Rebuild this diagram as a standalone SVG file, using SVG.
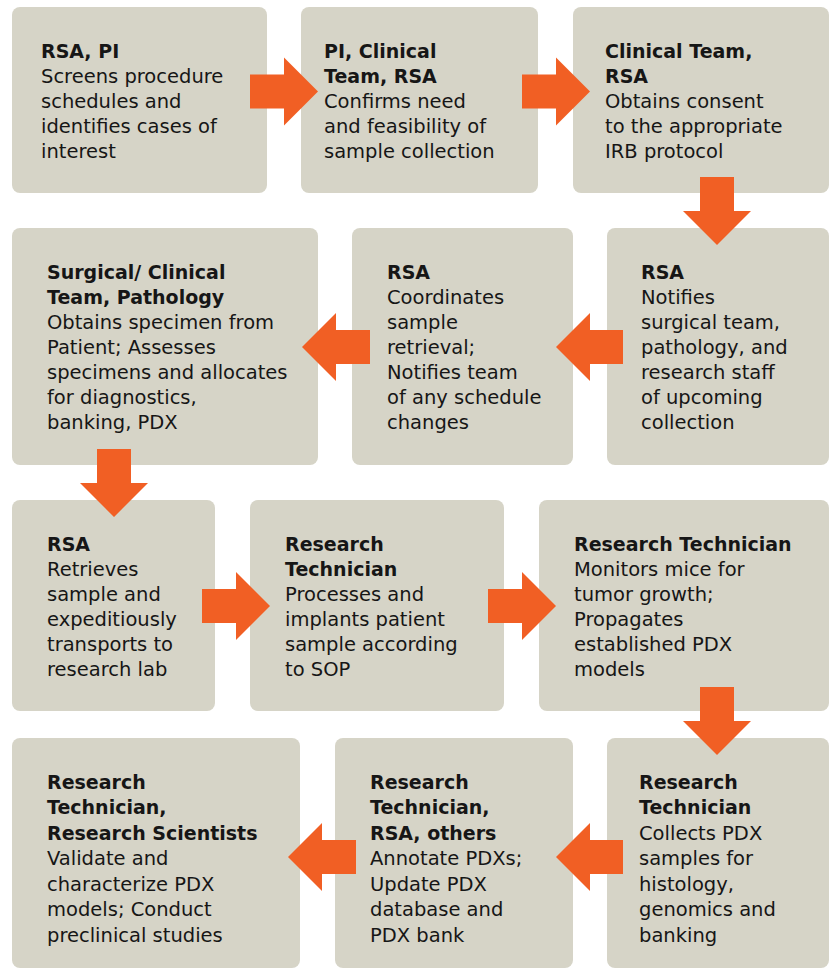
<svg xmlns="http://www.w3.org/2000/svg" width="829" height="973" viewBox="0 0 829 973">
<style>
.box{fill:#d6d4c7}
.arr{fill:#f15f24}
text{font-family:"DejaVu Sans","Liberation Sans",sans-serif;fill:#161616;font-size:19.5px}
.h{font-weight:bold;font-size:19px}
</style>
<rect width="829" height="973" fill="#ffffff"/>
<g id="n1"><rect class="box" x="12" y="7" width="255" height="186" rx="8"/>
<text x="41" y="57.5"><tspan class="h">RSA, PI</tspan><tspan x="41" dy="25">Screens procedure</tspan><tspan x="41" dy="25">schedules and</tspan><tspan x="41" dy="25">identifies cases of</tspan><tspan x="41" dy="25">interest</tspan></text></g>
<g id="n2"><rect class="box" x="301" y="7" width="237" height="186" rx="8"/>
<text x="324" y="57.5"><tspan class="h">PI, Clinical</tspan><tspan class="h" x="324" dy="25">Team, RSA</tspan><tspan x="324" dy="25">Confirms need</tspan><tspan x="324" dy="25">and feasibility of</tspan><tspan x="324" dy="25">sample collection</tspan></text></g>
<g id="n3"><rect class="box" x="573" y="7" width="256" height="186" rx="8"/>
<text x="605" y="57.5"><tspan class="h">Clinical Team,</tspan><tspan class="h" x="605" dy="25">RSA</tspan><tspan x="605" dy="25">Obtains consent</tspan><tspan x="605" dy="25">to the appropriate</tspan><tspan x="605" dy="25">IRB protocol</tspan></text></g>
<g id="n4"><rect class="box" x="12" y="228" width="306" height="237" rx="8"/>
<text x="47" y="278.5"><tspan class="h">Surgical/ Clinical</tspan><tspan class="h" x="47" dy="25">Team, Pathology</tspan><tspan x="47" dy="25">Obtains specimen from</tspan><tspan x="47" dy="25">Patient; Assesses</tspan><tspan x="47" dy="25">specimens and allocates</tspan><tspan x="47" dy="25">for diagnostics,</tspan><tspan x="47" dy="25">banking, PDX</tspan></text></g>
<g id="n5"><rect class="box" x="352" y="228" width="221" height="237" rx="8"/>
<text x="387" y="278.5"><tspan class="h">RSA</tspan><tspan x="387" dy="25">Coordinates</tspan><tspan x="387" dy="25">sample</tspan><tspan x="387" dy="25">retrieval;</tspan><tspan x="387" dy="25">Notifies team</tspan><tspan x="387" dy="25">of any schedule</tspan><tspan x="387" dy="25">changes</tspan></text></g>
<g id="n6"><rect class="box" x="607" y="228" width="222" height="237" rx="8"/>
<text x="641" y="278.5"><tspan class="h">RSA</tspan><tspan x="641" dy="25">Notifies</tspan><tspan x="641" dy="25">surgical team,</tspan><tspan x="641" dy="25">pathology, and</tspan><tspan x="641" dy="25">research staff</tspan><tspan x="641" dy="25">of upcoming</tspan><tspan x="641" dy="25">collection</tspan></text></g>
<g id="n7"><rect class="box" x="12" y="500" width="203" height="211" rx="8"/>
<text x="47" y="550.5"><tspan class="h">RSA</tspan><tspan x="47" dy="25">Retrieves</tspan><tspan x="47" dy="25">sample and</tspan><tspan x="47" dy="25">expeditiously</tspan><tspan x="47" dy="25">transports to</tspan><tspan x="47" dy="25">research lab</tspan></text></g>
<g id="n8"><rect class="box" x="250" y="500" width="254" height="211" rx="8"/>
<text x="285" y="550.5"><tspan class="h">Research</tspan><tspan class="h" x="285" dy="25">Technician</tspan><tspan x="285" dy="25">Processes and</tspan><tspan x="285" dy="25">implants patient</tspan><tspan x="285" dy="25">sample according</tspan><tspan x="285" dy="25">to SOP</tspan></text></g>
<g id="n9"><rect class="box" x="539" y="500" width="290" height="211" rx="8"/>
<text x="574" y="550.5"><tspan class="h">Research Technician</tspan><tspan x="574" dy="25">Monitors mice for</tspan><tspan x="574" dy="25">tumor growth;</tspan><tspan x="574" dy="25">Propagates</tspan><tspan x="574" dy="25">established PDX</tspan><tspan x="574" dy="25">models</tspan></text></g>
<g id="n10"><rect class="box" x="12" y="738" width="288" height="230" rx="8"/>
<text x="47" y="788.5"><tspan class="h">Research</tspan><tspan class="h" x="47" dy="25.5">Technician,</tspan><tspan class="h" x="47" dy="25.5">Research Scientists</tspan><tspan x="47" dy="25.5">Validate and</tspan><tspan x="47" dy="25.5">characterize PDX</tspan><tspan x="47" dy="25.5">models; Conduct</tspan><tspan x="47" dy="25.5">preclinical studies</tspan></text></g>
<g id="n11"><rect class="box" x="335" y="738" width="238" height="230" rx="8"/>
<text x="370" y="788.5"><tspan class="h">Research</tspan><tspan class="h" x="370" dy="25.5">Technician,</tspan><tspan class="h" x="370" dy="25.5">RSA, others</tspan><tspan x="370" dy="25.5">Annotate PDXs;</tspan><tspan x="370" dy="25.5">Update PDX</tspan><tspan x="370" dy="25.5">database and</tspan><tspan x="370" dy="25.5">PDX bank</tspan></text></g>
<g id="n12"><rect class="box" x="607" y="738" width="222" height="230" rx="8"/>
<text x="639" y="788.5"><tspan class="h">Research</tspan><tspan class="h" x="639" dy="25.5">Technician</tspan><tspan x="639" dy="25.5">Collects PDX</tspan><tspan x="639" dy="25.5">samples for</tspan><tspan x="639" dy="25.5">histology,</tspan><tspan x="639" dy="25.5">genomics and</tspan><tspan x="639" dy="25.5">banking</tspan></text></g>
<g id="connectors">
<path class="arr" d="M250,74.5H284V57.5L318,91.5L284,125.5V108.5H250Z"/>
<path class="arr" d="M522,74.5H556V57.5L590,91.5L556,125.5V108.5H522Z"/>
<path class="arr" d="M700,177V211H683L717,245L751,211H734V177Z"/>
<path class="arr" d="M623,330H590V313L556,347L590,381V364H623Z"/>
<path class="arr" d="M370,330H336V313L302,347L336,381V364H370Z"/>
<path class="arr" d="M97,449V483H80L114,517L148,483H131V449Z"/>
<path class="arr" d="M202,589H236V572L270,606L236,640V623H202Z"/>
<path class="arr" d="M488,589H522V572L556,606L522,640V623H488Z"/>
<path class="arr" d="M700,687V721H683L717,755L751,721H734V687Z"/>
<path class="arr" d="M623,840H590V823L556,857L590,891V874H623Z"/>
<path class="arr" d="M356,840H322V823L288,857L322,891V874H356Z"/>
</g>
</svg>
